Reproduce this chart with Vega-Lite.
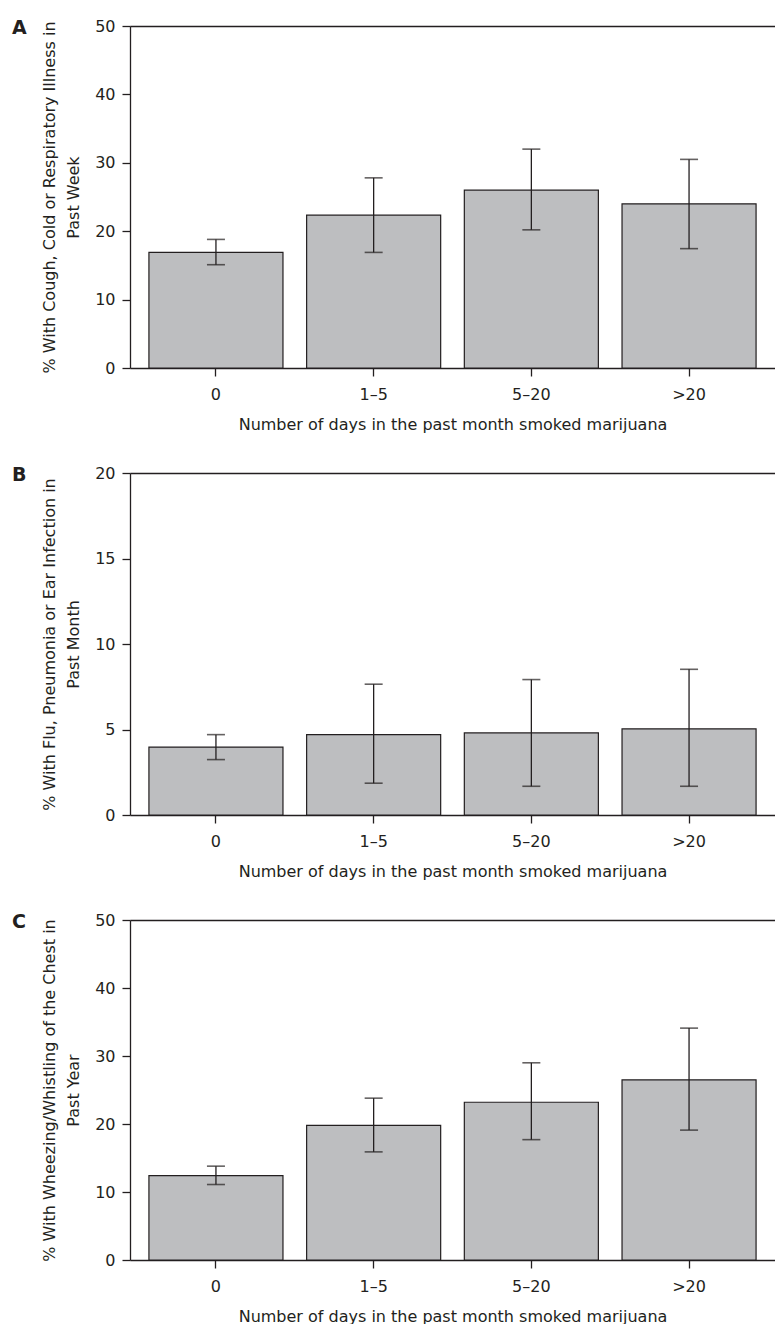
{
  "$schema": "https://vega.github.io/schema/vega-lite/v6.json",
  "padding": {"left": 12, "top": 18, "right": 0, "bottom": 0},
  "background": "white",
  "config": {
    "font": "DejaVu Sans",
    "view": {"stroke": null},
    "axis": {
      "domainColor": "#231f20",
      "tickColor": "#231f20",
      "labelColor": "#231f20",
      "titleColor": "#231f20",
      "labelFont": "DejaVu Sans",
      "titleFont": "DejaVu Sans",
      "labelFontSize": 16,
      "titleFontSize": 16,
      "titleFontWeight": "normal",
      "tickSize": 8,
      "grid": false,
      "domainWidth": 1.3,
      "tickWidth": 1.3
    },
    "title": {"font": "DejaVu Sans", "fontSize": 19, "fontWeight": "bold", "color": "#231f20"},
    "concat": {"spacing": 33}
  },
  "datasets": {
    "a": [
      {"days": "0", "pct": 16.9, "lo": 15.1, "hi": 18.8},
      {"days": "1–5", "pct": 22.35, "lo": 16.9, "hi": 27.8},
      {"days": "5–20", "pct": 26.0, "lo": 20.2, "hi": 32.0},
      {"days": ">20", "pct": 24.0, "lo": 17.45, "hi": 30.5}
    ],
    "b": [
      {"days": "0", "pct": 3.97, "lo": 3.24, "hi": 4.7},
      {"days": "1–5", "pct": 4.7, "lo": 1.86, "hi": 7.65},
      {"days": "5–20", "pct": 4.8, "lo": 1.68, "hi": 7.92},
      {"days": ">20", "pct": 5.04, "lo": 1.68, "hi": 8.52}
    ],
    "c": [
      {"days": "0", "pct": 12.4, "lo": 11.1, "hi": 13.8},
      {"days": "1–5", "pct": 19.8, "lo": 15.9, "hi": 23.8},
      {"days": "5–20", "pct": 23.2, "lo": 17.7, "hi": 29.0},
      {"days": ">20", "pct": 26.5, "lo": 19.1, "hi": 34.1}
    ]
  },
  "vconcat": [
    {
      "width": 645, "height": 342,
      "data": {"name": "a"},
      "title": {"text": "A", "anchor": "start", "frame": "group", "dx": -118, "dy": 20, "offset": 0},
      "resolve": {"axis": {"x": "independent"}},
      "layer": [
        {
          "mark": {"type": "bar", "fill": "#bdbec0", "stroke": "#231f20", "strokeWidth": 1.2},
          "encoding": {
            "x": {"field": "days", "type": "nominal", "sort": null, "scale": {"paddingInner": 0.15, "paddingOuter": 0.12},
                  "axis": {"title": "Number of days in the past month smoked marijuana", "labelAngle": 0, "labelPadding": 10, "titlePadding": 14}},
            "y": {"field": "pct", "type": "quantitative", "scale": {"domain": [0, 50]},
                  "axis": {"title": ["% With Cough, Cold or Respiratory Illness in", "Past Week"], "values": [0, 10, 20, 30, 40, 50], "labelPadding": 7, "titlePadding": 13, "titleLineHeight": 24}}
          }
        },
        {
          "mark": {"type": "rule", "color": "#231f20", "strokeWidth": 1.3},
          "encoding": {
            "x": {"field": "days", "type": "nominal", "sort": null, "axis": {"orient": "top", "labels": false, "ticks": false, "title": null}},
            "y": {"field": "lo", "type": "quantitative"},
            "y2": {"field": "hi"}
          }
        },
        {
          "mark": {"type": "tick", "color": "#231f20", "size": 18, "thickness": 1.6},
          "encoding": {"x": {"field": "days", "type": "nominal", "sort": null, "axis": null}, "y": {"field": "lo", "type": "quantitative"}}
        },
        {
          "mark": {"type": "tick", "color": "#231f20", "size": 18, "thickness": 1.6},
          "encoding": {"x": {"field": "days", "type": "nominal", "sort": null, "axis": null}, "y": {"field": "hi", "type": "quantitative"}}
        }
      ]
    },
    {
      "width": 645, "height": 342,
      "data": {"name": "b"},
      "title": {"text": "B", "anchor": "start", "frame": "group", "dx": -118, "dy": 20, "offset": 0},
      "resolve": {"axis": {"x": "independent"}},
      "layer": [
        {
          "mark": {"type": "bar", "fill": "#bdbec0", "stroke": "#231f20", "strokeWidth": 1.2},
          "encoding": {
            "x": {"field": "days", "type": "nominal", "sort": null, "scale": {"paddingInner": 0.15, "paddingOuter": 0.12},
                  "axis": {"title": "Number of days in the past month smoked marijuana", "labelAngle": 0, "labelPadding": 10, "titlePadding": 14}},
            "y": {"field": "pct", "type": "quantitative", "scale": {"domain": [0, 20]},
                  "axis": {"title": ["% With Flu, Pneumonia or Ear Infection in", "Past Month"], "values": [0, 5, 10, 15, 20], "labelPadding": 7, "titlePadding": 13, "titleLineHeight": 24}}
          }
        },
        {
          "mark": {"type": "rule", "color": "#231f20", "strokeWidth": 1.3},
          "encoding": {
            "x": {"field": "days", "type": "nominal", "sort": null, "axis": {"orient": "top", "labels": false, "ticks": false, "title": null}},
            "y": {"field": "lo", "type": "quantitative"},
            "y2": {"field": "hi"}
          }
        },
        {
          "mark": {"type": "tick", "color": "#231f20", "size": 18, "thickness": 1.6},
          "encoding": {"x": {"field": "days", "type": "nominal", "sort": null, "axis": null}, "y": {"field": "lo", "type": "quantitative"}}
        },
        {
          "mark": {"type": "tick", "color": "#231f20", "size": 18, "thickness": 1.6},
          "encoding": {"x": {"field": "days", "type": "nominal", "sort": null, "axis": null}, "y": {"field": "hi", "type": "quantitative"}}
        }
      ]
    },
    {
      "width": 645, "height": 340,
      "data": {"name": "c"},
      "title": {"text": "C", "anchor": "start", "frame": "group", "dx": -118, "dy": 20, "offset": 0},
      "resolve": {"axis": {"x": "independent"}},
      "layer": [
        {
          "mark": {"type": "bar", "fill": "#bdbec0", "stroke": "#231f20", "strokeWidth": 1.2},
          "encoding": {
            "x": {"field": "days", "type": "nominal", "sort": null, "scale": {"paddingInner": 0.15, "paddingOuter": 0.12},
                  "axis": {"title": "Number of days in the past month smoked marijuana", "labelAngle": 0, "labelPadding": 10, "titlePadding": 14}},
            "y": {"field": "pct", "type": "quantitative", "scale": {"domain": [0, 50]},
                  "axis": {"title": ["% With Wheezing/Whistling of the Chest in", "Past Year"], "values": [0, 10, 20, 30, 40, 50], "labelPadding": 7, "titlePadding": 13, "titleLineHeight": 24}}
          }
        },
        {
          "mark": {"type": "rule", "color": "#231f20", "strokeWidth": 1.3},
          "encoding": {
            "x": {"field": "days", "type": "nominal", "sort": null, "axis": {"orient": "top", "labels": false, "ticks": false, "title": null}},
            "y": {"field": "lo", "type": "quantitative"},
            "y2": {"field": "hi"}
          }
        },
        {
          "mark": {"type": "tick", "color": "#231f20", "size": 18, "thickness": 1.6},
          "encoding": {"x": {"field": "days", "type": "nominal", "sort": null, "axis": null}, "y": {"field": "lo", "type": "quantitative"}}
        },
        {
          "mark": {"type": "tick", "color": "#231f20", "size": 18, "thickness": 1.6},
          "encoding": {"x": {"field": "days", "type": "nominal", "sort": null, "axis": null}, "y": {"field": "hi", "type": "quantitative"}}
        }
      ]
    }
  ]
}
